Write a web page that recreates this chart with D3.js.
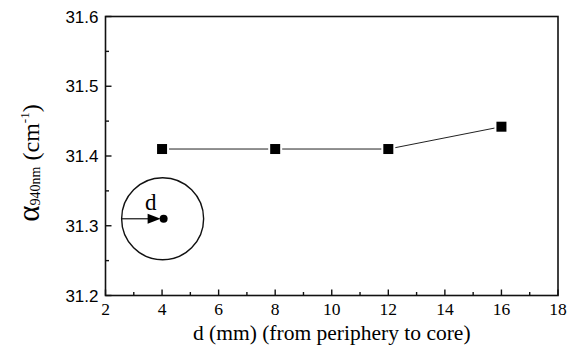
<!DOCTYPE html>
<html>
<head>
<meta charset="utf-8">
<script src="https://cdn.jsdelivr.net/npm/d3@7"></script>
<style>
  body { margin: 0; background: #fff; }
  svg { display: block; }
  .serif { font-family: "Liberation Serif", "Times New Roman", serif; }
  .sans { font-family: "Liberation Sans", Arial, sans-serif; }
</style>
</head>
<body>
<svg id="chart" width="580" height="353"></svg>
<script>
const distances = [4, 8, 12, 16];
const alphaValues = [31.41, 31.41, 31.41, 31.442];
const xTicks = [2, 4, 6, 8, 10, 12, 14, 16, 18];
const yTicks = [31.2, 31.3, 31.4, 31.5, 31.6];

const margin = { top: 16.5, right: 22, bottom: 57.5, left: 105.5 };
const width = 580, height = 353;
const chartWidth = width - margin.left - margin.right;
const chartHeight = height - margin.top - margin.bottom;

const svg = d3.select('#chart');
const g = svg.append('g').attr('transform', `translate(${margin.left},${margin.top})`);

const xScale = d3.scaleLinear().domain([2, 18]).range([0, chartWidth]);
const yScale = d3.scaleLinear().domain([31.2, 31.6]).range([chartHeight, 0]);

// frame
g.append('rect')
  .attr('width', chartWidth).attr('height', chartHeight)
  .attr('fill', 'none').attr('stroke', '#111').attr('stroke-width', 1.6);

// x axis, ticks pointing inward
const xAxis = g.append('g').attr('transform', `translate(0,${chartHeight})`);
const xMinor = d3.range(3, 18, 2);
xAxis.selectAll('.major').data(xTicks).enter().append('line')
  .attr('x1', d => xScale(d)).attr('x2', d => xScale(d))
  .attr('y1', 0).attr('y2', -6).attr('stroke', '#111').attr('stroke-width', 1.4);
xAxis.selectAll('.minor').data(xMinor).enter().append('line')
  .attr('x1', d => xScale(d)).attr('x2', d => xScale(d))
  .attr('y1', 0).attr('y2', -3.5).attr('stroke', '#111').attr('stroke-width', 1.4);
xAxis.selectAll('text').data(xTicks).enter().append('text')
  .attr('class', 'serif')
  .attr('x', d => xScale(d)).attr('y', 19)
  .attr('text-anchor', 'middle')
  .attr('font-size', 17.5)
  .text(d => d);

// y axis
const yAxis = g.append('g');
const yMinor = [31.25, 31.35, 31.45, 31.55];
yAxis.selectAll('.major').data(yTicks).enter().append('line')
  .attr('x1', 0).attr('x2', 6)
  .attr('y1', d => yScale(d)).attr('y2', d => yScale(d))
  .attr('stroke', '#111').attr('stroke-width', 1.4);
yAxis.selectAll('.minor').data(yMinor).enter().append('line')
  .attr('x1', 0).attr('x2', 3.5)
  .attr('y1', d => yScale(d)).attr('y2', d => yScale(d))
  .attr('stroke', '#111').attr('stroke-width', 1.4);
yAxis.selectAll('text').data(yTicks).enter().append('text')
  .attr('class', 'sans')
  .attr('x', -7).attr('y', d => yScale(d) + 6)
  .attr('text-anchor', 'end')
  .attr('font-size', 17)
  .text(d => d.toFixed(1));

// data line and markers
const data = distances.map((d, i) => ({ x: d, y: alphaValues[i] }));
const line = d3.line().x(d => xScale(d.x)).y(d => yScale(d.y));
g.append('path').datum(data)
  .attr('fill', 'none').attr('stroke', '#222').attr('stroke-width', 1)
  .attr('d', line);
// white halo leaves a small gap between line and marker
g.selectAll('.halo').data(data).enter().append('rect')
  .attr('x', d => xScale(d.x) - 7).attr('y', d => yScale(d.y) - 7)
  .attr('width', 14).attr('height', 14).attr('fill', '#fff');
g.selectAll('.pt').data(data).enter().append('rect')
  .attr('x', d => xScale(d.x) - 5).attr('y', d => yScale(d.y) - 5)
  .attr('width', 10).attr('height', 10).attr('fill', '#000');

// inset: circle with radius arrow
const cx = xScale(4.02), cy = yScale(31.31), r = 41;
const inset = g.append('g');
inset.append('circle').attr('cx', cx).attr('cy', cy).attr('r', r)
  .attr('fill', 'none').attr('stroke', '#111').attr('stroke-width', 1.4);
inset.append('circle').attr('cx', cx + 1).attr('cy', cy).attr('r', 4).attr('fill', '#000');
inset.append('line').attr('x1', cx - r).attr('x2', cx - 10).attr('y1', cy).attr('y2', cy)
  .attr('stroke', '#111').attr('stroke-width', 1.2);
inset.append('path')
  .attr('d', `M${cx - 15},${cy - 5} L${cx - 2},${cy} L${cx - 15},${cy + 5} Z`)
  .attr('fill', '#000');
inset.append('text').attr('class', 'serif')
  .attr('x', cx - 12).attr('y', cy - 9)
  .attr('text-anchor', 'middle')
  .attr('font-size', 23).text('d');

// x title
svg.append('text').attr('class', 'serif')
  .attr('x', margin.left + chartWidth / 2).attr('y', 340)
  .attr('text-anchor', 'middle')
  .attr('font-size', 21.5)
  .text('d (mm) (from periphery to core)');

// y title
const yt = svg.append('text').attr('class', 'serif')
  .attr('transform', `translate(39,163) rotate(-90)`)
  .attr('text-anchor', 'middle')
  .attr('font-size', 24);
yt.append('tspan').attr('font-size', 31).text('α');
yt.append('tspan').attr('font-size', 14).attr('dy', 1).text('940nm');
yt.append('tspan').attr('dy', -1).text(' (cm');
yt.append('tspan').attr('font-size', 13).attr('dy', -10).text('-1');
yt.append('tspan').attr('dy', 10).text(')');
</script>
</body>
</html>
